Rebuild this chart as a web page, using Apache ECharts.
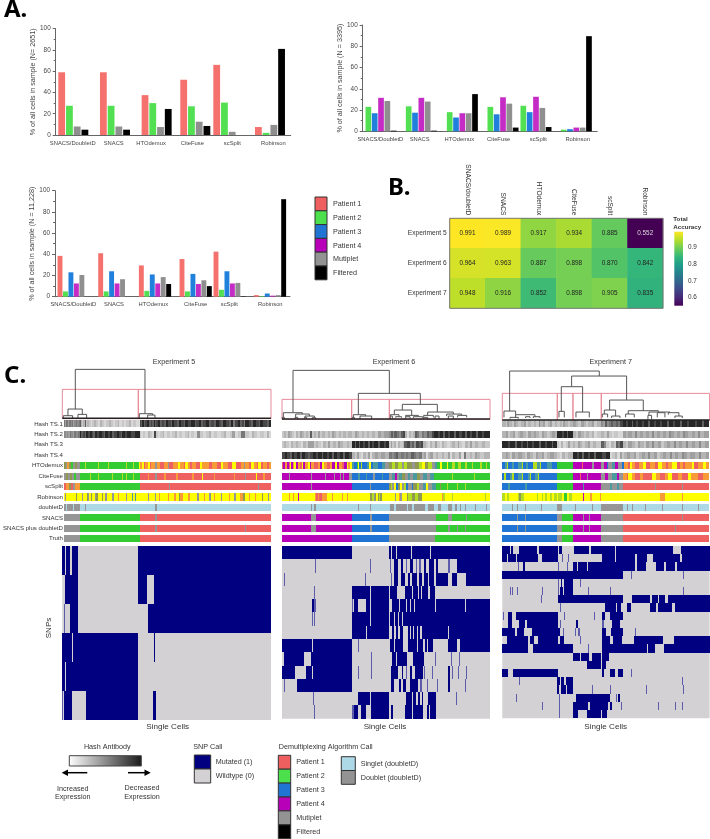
<!DOCTYPE html>
<html>
<head>
<meta charset="utf-8">
<style>
    html, body { margin: 0; padding: 0; background: #fff; }
    #main { width: 710px; height: 839px; }
</style>
<script src="https://cdn.jsdelivr.net/npm/echarts@6/dist/echarts.min.js"></script>
</head>
<body>
<div id="main"></div>
<script>
// ---- panel A, % of cells per algorithm
const methods = ['SNACS/DoubletD', 'SNACS', 'HTOdemux', 'CiteFuse', 'scSplit', 'Robinson'];

const exp5Patient1 = [59, 59, 37.5, 52, 66, 7.5];
const exp5Patient2 = [27.5, 27.5, 30, 27, 30.5, 2];
const exp5Multiplet = [8, 8, 7.5, 12.5, 3, 9.5];
const exp5Filtered = [5, 5, 24.5, 8.5, null, 81];

const exp6Patient2 = [23, 23.5, 18, 23, 24, 1.5];
const exp6Patient3 = [17, 17.5, 13, 16, 18, 2];
const exp6Patient4 = [31.5, 31.5, 17, 32, 32.5, 3.5];
const exp6Multiplet = [28.5, 28, 17, 26, 22, 3.5];
const exp6Filtered = [0.6, 0.6, 35, 3.5, 4, 89.5];

const exp7Patient1 = [38.5, 41, 29.5, 35.5, 42.5, 1.5];
const exp7Patient2 = [5, 5, 5.5, 5, 6.5, 0.5];
const exp7Patient3 = [23, 24, 21, 21.5, 24, 3];
const exp7Patient4 = [12.5, 12.5, 12.5, 12, 12.5, 1];
const exp7Multiplet = [20.5, 16.5, 18.5, 15.5, 13, 1.5];
const exp7Filtered = [null, null, 12, 10, 0.3, 92];

// ---- panel B, total accuracy
const experiments = ['Experiment 5', 'Experiment 6', 'Experiment 7'];
const heatMethods = ['SNACS/doubletD', 'SNACS', 'HTOdemux', 'CiteFuse', 'scSplit', 'Robinson'];
const accuracy5 = [0.991, 0.989, 0.917, 0.934, 0.885, 0.552];
const accuracy6 = [0.964, 0.963, 0.887, 0.898, 0.870, 0.842];
const accuracy7 = [0.948, 0.916, 0.852, 0.898, 0.905, 0.835];
const accuracyTicks = [0.6, 0.7, 0.8, 0.9];
const viridis = ['#440154', '#482878', '#3e4989', '#31688e', '#26828e', '#1f9e89', '#35b779', '#6ece58', '#b5de2b', '#fde725'];

// ---- panel C, annotation tracks: each token is <code><cell where the run ends>
const trackNames = ['Hash TS.1', 'Hash TS.2', 'Hash TS.3', 'Hash TS.4', 'HTOdemux', 'CiteFuse', 'scSplit', 'Robinson', 'doubletD', 'SNACS', 'SNACS plus doubletD', 'Truth'];

const tracks5 = [
    'g190 e192 g197 e200 g206 f209 g214 e217 f221 g226 f230 g234 h236 d241 c244 d248 h251 c256 d262 c268 b272 c278 d283 c290 b296 d302 c308 b314 c322 d327 c334 b340 c348 d353 b360 c368 b375 c384 d388 b396 c404 b415 i420 h423 j428 h432 i438 j443 h448 i453 h457 j462 h465 i472 j478 h482 i490 h496 j502 i510 h514 j520 i528 h533 j540 i548 h553 j562 i570 j582 h587 i594 j602 h606 i615 j625 h630 i640 h645 j655 i662 h667 j677 i686 h692 j698 g703 i712 j720 h724 i730 g734 j745 i752 h757 j768 i776 h781 j790 i800 h806 j813',
    'f191 e194 f199 e203 g208 f213 e217 g222 f228 g234 j238 h242 i248 h252 j258 i263 j270 i275 h279 j286 i292 j300 i306 h310 j318 i325 j332 h337 i345 j352 i358 h362 j370 i378 j390 i400 j415 c420 b426 c432 b440 d446 c452 b458 i464 c472 b478 c486 d490 b498 c506 b514 c522 d527 b535 c544 b552 c560 d564 b572 c580 b590 f598 c606 b616 c625 d630 b640 c650 b660 c672 d677 b688 c696 e703 b712 c722 g734 c745 b755 d760 c770 b780 c792 b802 d806 b813',
    '',
    '',
    'A192 M196 O200 A208 G212 M220 A226 M234 G250 V252 G290 V292 G320 V323 G345 V347 G375 V378 G395 V397 G412 Y415 O422 Y428 R431 O440 Y445 R450 O462 M466 O478 R490 O500 M505 R515 O530 Y536 O548 R553 Y560 O567 R575 O585 R598 Y603 O625 R635 O650 R660 Y668 O684 R694 Y706 R722 O730 M734 O745 R752 Y760 O770 R773 Y782 R790 O800 R808 O813',
    'M192 A198 M204 A210 M216 G222 M234 G265 V267 G290 V292 G330 V333 G360 V363 G375 V377 G395 V397 G415 R440 O444 R460 M466 R490 O494 R525 O530 R575 O580 R605 Y608 R640 O644 R700 O703 R733 M736 R768 Y772 R790 O795 R813',
    'R192 O200 A208 R212 M218 O234 G415 R505 M507 R703 M705 R733 M735 R775 M777 R800 M802 R813',
    'Y190 M192 Y200 O202 Y212 M214 Y222 A225 Y240 M243 Y254 A258 M262 Y268 A270 Y280 M284 A288 Y300 A304 Y310 M316 Y330 A332 M336 Y350 O352 Y360 M362 Y375 M378 Y392 T396 Y402 T405 Y440 M444 Y460 M463 Y474 O478 Y500 O505 Y520 O524 Y535 A538 O545 Y560 O566 Y590 M594 Y610 O614 Y625 M632 Y640 O644 Y660 M664 Y685 O690 Y700 M708 Y720 O728 A734 Y745 O750 Y765 O768 Y785 A790 Y805 M808 Y813',
    'M193 L195 M200 L202 M206 L208 M214 L216 M234 L249 M252 L460 M466 L733 M735 L813',
    'M234 G415 R462 M466 R813',
    'M234 G415 R460 M466 R733 M736 R813',
    'M234 G415 R813'
];

const tracks6 = [
    '',
    'c28 d32 c40 e44 d50 c58 b62 d68 c75 e80 d86 c92 d98 c105 h112 c118 d124 c130 e135 c142 d150 c158 d166 c172 e178 d184 c192 d198 c205 d212 c220 d230 c240 e245 d252 c260 d268 c275 d282 c292 d300 c310 e318 d328 e343 f348 h354 f358 h366 g372 f378 h385 i390 d396 b402 d408 c415 d420 h426 g432 e440 g448 f455 h462 g470 i478 j490 i496 j505 h510 j520 i526 j538 h542 j552 i560 j570 h575 j585 i592 j604 h608 j620 i628 j645',
    'c28 d34 c42 b48 d55 c64 d70 c78 b85 d92 c100 e110 e116 c124 d130 c138 b145 d152 c160 e165 c175 d182 c190 e196 d205 c215 d222 c230 j240 h244 j252 h256 j265 i270 j280 h284 j292 i298 j310 h315 j328 i333 j343 c348 e352 c358 d364 b370 d376 c384 d388 h396 i404 g410 h418 f424 i432 h438 i445 d452 c460 b466 d472 c480 e486 c494 b500 d508 c516 b524 c532 d540 c548 e553 c562 b570 d578 c586 e592 c600 d610 c620 d630 c645',
    'i30 j36 i44 h50 j58 i66 j76 h82 j90 i98 h106 i114 j122 i130 j140 h145 j155 i162 j172 h178 j186 i194 j205 h210 j222 i230 d240 c246 e252 c258 b264 d272 c280 e286 b292 d300 e310 d318 e330 d343 g350 f356 g364 h370 f378 g386 f392 g400 f408 h416 g424 f432 g440 d446 e452 b460 d466 e474 c482 d490 c500 d508 c518 e524 b532 d540 c552 e558 b566 g574 c584 d592 c600 e606 d616 c626 d645',
    'R25 P30 O36 P42 R45 Y48 P54 O58 Y62 P70 O75 R80 Y85 P90 O98 Y104 P108 O118 R128 O135 P142 Y148 O155 R165 O172 P180 Y186 P192 O200 R208 P215 Y218 O225 Y230 T238 B245 G248 Y252 B258 V262 B275 T282 Y288 B295 T310 B322 T330 M343 A352 V360 A370 V380 M388 V395 A410 M420 A432 V442 Y450 A460 V470 M480 T487 G495 Y500 G515 Y518 G530 V540 G550 V558 G570 V575 G590 V595 G615 V620 G632 V636 G645',
    'P42 M46 P108 M112 P150 M153 P178 M181 P195 M198 P205 M208 P222 M230 B248 T255 B272 T276 B295 M300 B320 T325 B343 M350 T360 P365 M372 T380 A390 M400 T405 M415 T425 A435 M445 T455 M465 T478 G530 V533 G598 V601 G645',
    'P108 M112 P230 B285 M289 B343 A348 V352 M358 Y362 B368 A375 Y380 M388 V393 B400 M410 B415 A425 V432 M445 T452 Y460 M470 T483 G495 A498 G515 V518 G545 V548 G570 V574 G645',
    'Y42 O45 Y55 O58 Y70 P72 Y98 R100 Y120 O124 R128 O133 R140 O155 Y170 O174 Y200 O204 Y215 O220 Y285 A290 V297 M300 A304 Y308 A312 V316 A320 Y360 M364 Y372 O376 M380 Y396 A400 V412 A420 V430 A440 Y500 O505 V510 Y530 V535 Y630 V633 Y645',
    'L108 M111 L118 M122 L250 M252 L285 M288 L346 M358 L362 M395 L400 M412 L418 M450 L460 M478 L490 M498 L520 M530 L540 M545 L555 M558 L570 M574 L600 M603 L632 M635 L645',
    'P108 M122 P230 B285 M291 B343 M483 G520 M530 G572 M575 G645',
    'P108 M122 P230 B285 M291 B343 M483 G520 M524 G545 M548 G570 M574 G645',
    'P230 B343 M480 G645'
];

const tracks7 = [
    'd32 c36 e42 d50 c56 e62 d70 c78 d86 e92 c100 d108 c116 d124 c132 f136 d144 e150 c158 d166 e172 c180 d187 c195 d200 c205 e210 d218 c226 d234 e242 d250 c258 e266 d274 c280 d290 e298 c306 d319 f325 e330 h336 f342 g348 h355 g362 h370 g376 i385 j394 i400 j410 h414 j424 i430 j442 i448 j460 h465 j478 i484 j496 i502 j516 h522 j534 i540 j556 h561 j576 i582 j600 i606 j620 h626 j643',
    'd32 e38 c46 d54 e60 c68 d76 e84 d92 c100 e108 d116 e124 d132 c140 e148 d156 c164 d172 e180 d187 j200 i206 j215 h220 j234 d242 c250 e258 d266 c274 d282 c290 d298 b306 c319 d328 c336 e342 c350 b358 c368 b385 e392 d400 e410 d420 f426 d436 e444 d452 e462 d470 f476 d486 e496 d504 e514 d522 f528 e538 d546 e556 d564 f570 e580 d590 e600 d610 f616 d628 e643',
    'j40 i46 j60 h66 j78 i84 j96 h100 j112 i118 j132 h138 j150 i156 j170 h175 j187 c192 b198 d204 b212 c220 e226 c234 d240 c248 e254 d262 c270 d278 e286 c294 d304 c319 h328 f332 c342 b348 d356 c362 h370 g376 i385 d394 c400 e410 d420 c428 e436 d446 c454 e462 d472 f478 d488 e498 c506 d516 e526 d536 f542 d552 e562 d572 f578 d590 e600 d612 f618 d630 e643',
    'd32 e38 d46 c52 e60 d70 e80 d90 c96 e104 d114 c122 e130 d140 e148 c156 d166 e176 d187 c195 b202 d210 c218 d234 j246 i252 j262 h268 j280 i286 j298 h304 j320 i334 j345 b352 c360 d366 b375 e382 c388 d396 e404 d416 e424 c432 d442 e450 d460 f466 d476 e486 c494 d504 e514 d524 f530 d540 e550 d560 f566 e576 d586 e600 d612 f618 d632 e643',
    'B30 T35 V38 B50 T56 B70 T80 V84 B92 T98 B115 V125 T135 V138 B155 T170 B187 G234 P262 R265 P290 M296 P318 M328 P335 B340 M352 T360 P368 M380 B387 O400 R405 Y412 O420 R432 O445 Y452 R465 O480 R490 Y500 O512 R520 O530 Y545 R555 O565 R570 O590 Y597 R610 O625 Y632 O643',
    'B28 V32 B45 T50 V56 B70 T80 V85 B100 T105 V108 B120 T128 V132 B187 G234 P255 R258 P275 M278 P318 M330 P338 M350 T365 P372 M385 O395 R400 Y410 O420 R435 O445 R470 Y482 O495 R510 O520 Y530 R550 O560 R580 Y588 O610 R625 O643',
    'B40 T44 B90 T95 B187 G234 P265 T268 P318 M345 T350 M365 T372 M385 R480 M483 R560 M563 R643',
    'V30 Y35 V42 Y68 V72 A78 V88 Y125 V130 Y140 V145 Y150 V155 Y165 V170 Y178 V185 Y190 V200 Y208 G215 Y222 V232 Y264 P267 Y285 O292 Y315 O318 Y495 O510 Y560 O563 Y643',
    'L52 M55 L65 M68 L90 M92 L138 M142 L186 M200 L240 M243 L290 M293 L318 M385 L395 M398 L410 M413 L450 M452 L500 M503 L560 M563 L610 M613 L643',
    'B65 M68 B90 M92 B140 M142 B187 M202 G234 P265 M268 P282 M285 P318 M385 R562 M565 R643',
    'B65 M68 B90 M92 B140 M142 B187 M202 G234 P265 M268 P282 M285 P318 M385 R540 M543 R643',
    'B187 M202 G234 P318 M385 R643'
];

// ---- panel C, SNP matrices: each row lists [from, to] runs of mutated cells
const snps5 = [
    [187, 195, 198, 210, 216, 234, 415, 813],
    [195, 212, 214, 234, 415, 441, 461, 813],
    [191, 195, 210, 234, 443, 813],
    [187, 198, 199, 216, 218, 415, 461, 466],
    [187, 195, 197, 415],
    [187, 190, 193, 200, 201, 216, 259, 415, 460, 467]
];

const snps6 = [
    [21, 230, 343, 349, 351, 364, 366, 395, 397, 408, 410, 465, 467, 645],
    [120, 122, 285, 288, 345, 347, 356, 368, 378, 384, 392, 396, 405, 415, 422, 425, 433, 437, 447, 452, 462, 478, 482, 490, 520, 524, 545, 645],
    [27, 29, 270, 274, 348, 352, 358, 368, 378, 390, 398, 404, 412, 425, 432, 440, 447, 460, 462, 478, 482, 520, 530, 545, 573, 645],
    [117, 121, 230, 285, 287, 343, 345, 365, 390, 412, 414, 430, 432, 437, 440, 460, 465, 480],
    [110, 116, 118, 122, 230, 234, 238, 250, 272, 284, 288, 343, 350, 356, 358, 372, 376, 392, 395, 404, 408, 418, 420, 480, 483, 570, 574, 645],
    [110, 112, 117, 120, 230, 285, 287, 343, 345, 350, 352, 358, 360, 368, 372, 380, 384, 410, 412, 645],
    [230, 272, 275, 343, 350, 356, 362, 368, 375, 384, 400, 405, 408, 414, 418, 425, 428, 435, 440, 518, 522, 645],
    [21, 110, 113, 230, 249, 252, 345, 358, 360, 385, 398, 425, 428, 445, 450, 455, 460, 475, 520, 545, 555, 645],
    [27, 87, 108, 230, 287, 290, 350, 362, 365, 395, 415, 447, 480, 483, 528, 530, 552, 555],
    [21, 60, 93, 112, 114, 230, 249, 252, 287, 290, 348, 368, 380, 385, 392, 395, 405, 412, 420, 445, 446, 450, 470, 473, 520, 526, 530, 533, 550, 553, 573, 575],
    [27, 29, 67, 110, 112, 230, 348, 356, 372, 378, 384, 394, 405, 430, 436, 440, 457, 460, 485, 488, 520, 526, 570, 574],
    [115, 118, 250, 285, 287, 343, 392, 398, 400, 410, 415, 424, 430, 435, 440, 445, 460, 482, 543, 546],
    [117, 120, 232, 236, 238, 250, 257, 272, 287, 343, 348, 354, 390, 412, 415, 428, 430, 445, 456, 462, 466, 482]
];

const snps7 = [
    [22, 45, 47, 55, 72, 125, 133, 190, 192, 202, 238, 283, 288, 360, 362, 533, 558, 644],
    [22, 35, 38, 62, 65, 130, 140, 190, 200, 202, 218, 222, 320, 360, 362, 420, 425, 455, 475, 555, 560, 644],
    [70, 73, 85, 90, 188, 192, 215, 218, 235, 245, 250, 275, 280, 420, 425, 452, 482, 508, 512, 540, 545, 644],
    [22, 385, 408, 410, 563, 566],
    [188, 192, 197, 202, 208, 234, 255, 258],
    [44, 47, 52, 55, 65, 68, 140, 142, 188, 190, 195, 204, 208, 234, 280, 282, 345, 348, 563, 566],
    [139, 141, 188, 385, 410, 465, 470, 488, 492, 510, 518, 644],
    [195, 198, 330, 362, 366, 378, 395, 408, 465, 483, 490, 530, 540, 644],
    [25, 27, 38, 52, 63, 188, 207, 210, 297, 300, 320, 330, 345, 385],
    [40, 50, 72, 90, 95, 188, 195, 198, 243, 250, 322, 326, 352, 375],
    [22, 60, 65, 88, 112, 188, 190, 195, 205, 208, 240, 243, 250, 254, 320, 332, 348, 385, 420, 424],
    [35, 100, 105, 118, 130, 188, 195, 207, 255, 258, 320, 345, 355, 380, 418, 505, 537, 644],
    [22, 100, 115, 234, 280, 283, 320, 455, 458, 480, 508, 644],
    [234, 255, 258, 282, 290, 318, 322, 342],
    [275, 318, 322, 334],
    [22, 38, 53, 188, 320, 328, 345, 360, 370, 385, 408, 411],
    [72, 75, 186, 195, 197, 208, 213, 234, 562, 565],
    [186, 192, 197, 212, 215, 234, 292, 295, 345, 348, 453, 456, 565, 567],
    [63, 66, 192, 195, 243, 345, 362, 365, 368, 375],
    [141, 143, 192, 195, 235, 280, 285, 340, 345, 350, 378, 382, 490, 492, 540, 544, 562, 565],
    [192, 195, 235, 248, 275, 318, 322, 336]
];

// ---- panel C, dendrograms: [left cell, right cell, join height, left child height, right child height]
const merges5 = [
    [226, 435, 88, 207, 221], [204, 247, 207, 227, 223], [190, 218, 227, 236, 236], [234, 260, 223, 236, 236],
    [418, 458, 221, 236, 225], [443, 465, 225, 236, 236]
];
const merges6 = [
    [54, 343, 91, 218, 160], [25, 82, 218, 232, 222], [62, 103, 222, 232, 228], [90, 118, 228, 232, 233],
    [22, 28, 232, 237, 237], [60, 68, 232, 237, 237], [88, 95, 232, 237, 237], [112, 122, 233, 237, 237],
    [250, 436, 160, 224, 193], [235, 272, 224, 232, 228], [232, 238, 232, 237, 237], [255, 290, 228, 237, 237],
    [382, 487, 193, 210, 216], [358, 410, 210, 224, 226], [346, 372, 224, 228, 230], [346, 352, 228, 237, 237],
    [362, 380, 230, 233, 233], [392, 430, 226, 230, 230], [392, 405, 230, 236, 236], [415, 442, 230, 234, 234],
    [458, 535, 216, 226, 222], [446, 475, 226, 232, 232], [446, 458, 232, 237, 237], [480, 492, 228, 237, 237],
    [515, 560, 222, 228, 226], [520, 535, 228, 237, 237], [548, 575, 226, 232, 232]
];
const merges7 = [
    [44, 313, 93, 213, 108], [230, 395, 108, 140, 180], [199, 263, 140, 214, 216], [192, 208, 214, 232, 232],
    [243, 283, 216, 232, 232], [344, 445, 180, 210, 212], [328, 362, 210, 222, 228], [322, 338, 222, 232, 232],
    [350, 375, 228, 234, 234], [400, 490, 212, 222, 216], [392, 418, 222, 232, 232], [462, 525, 216, 226, 218],
    [459, 470, 226, 238, 238], [487, 510, 218, 232, 232], [520, 552, 218, 224, 228], [540, 562, 228, 234, 234],
    [27, 62, 213, 232, 224], [62, 120, 224, 232, 230], [45, 70, 232, 236, 236], [92, 105, 230, 234, 234], [115, 135, 230, 234, 234]
];

// ---- colours
const barColors = { p1: '#f4716d', p2: '#52e052', p3: '#2080dc', p4: '#c52cc5', m: '#8f8f8f', f: '#000000' };
const trackColors = {
    R: '#ef6060', G: '#33cc33', B: '#1f74d4', P: '#b800b8', M: '#969696', Y: '#ffff00', O: '#f79a38',
    V: '#b4dc20', A: '#8f9a50', T: '#4a9aa0', L: '#add8e6',
    a: '#f0f0f0', b: '#d8d8d8', c: '#c8c8c8', d: '#b4b4b4', e: '#a0a0a0', f: '#8c8c8c', g: '#787878', h: '#606060', i: '#484848', j: '#282828'
};
const colorCodes = Object.keys(trackColors);
const FONT = '"Liberation Sans", Arial, sans-serif';

// ---- layout of the three bar charts (x axis runs in layout units)
const barCharts = [
    {
        left: 55.7, top: 28.7, width: 235, height: 106.3, xMin: 167, xMax: 872, pitch: 23.2, barWidth: 6.8, nameGap: 19,
        name: '% of all cells in sample (N= 2651)',
        groupStart: [185, 310, 435, 551, 650, 775], labelAt: [218, 341, 453, 577, 697, 820],
        series: [[exp5Patient1, barColors.p1], [exp5Patient2, barColors.p2], [exp5Multiplet, barColors.m], [exp5Filtered, barColors.f]]
    },
    {
        left: 362.7, top: 25, width: 234.6, height: 106.3, xMin: 98, xMax: 802, pitch: 19, barWidth: 5.7, nameGap: 17,
        name: '% of all cells in sample (N = 3395)',
        groupStart: [115, 236, 359, 481, 580, 701], labelAt: [151, 269, 388, 506, 625, 743],
        series: [[exp6Patient2, barColors.p2], [exp6Patient3, barColors.p3], [exp6Patient4, barColors.p4], [exp6Multiplet, barColors.m], [exp6Filtered, barColors.f]]
    },
    {
        left: 55, top: 190.7, width: 235, height: 106, xMin: 165, xMax: 870, pitch: 16.4, barWidth: 4.9, nameGap: 16.5,
        name: '% of all cells in sample (N = 11,228)',
        groupStart: [180, 302, 424, 546, 648, 769], labelAt: [220, 342, 460, 587, 688, 811],
        series: [[exp7Patient1, barColors.p1], [exp7Patient2, barColors.p2], [exp7Patient3, barColors.p3], [exp7Patient4, barColors.p4], [exp7Multiplet, barColors.m], [exp7Filtered, barColors.f]]
    }
];

// ---- layout of panel C
const panels = [
    { left: 62.3, width: 208.7, cells: [187, 813], tracks: tracks5, snps: snps5, merges: merges5, boxes: [187, 415, 813], boxTop: 148, base: 236, snpHeight: 174, labels: true },
    { left: 282, width: 208, cells: [21, 645], tracks: tracks6, snps: snps6, merges: merges6, boxes: [21, 230, 343, 645], boxTop: 178, base: 238, snpHeight: 172.7, labels: false },
    { left: 502.3, width: 207.3, cells: [22, 644], tracks: tracks7, snps: snps7, merges: merges7, boxes: [22, 187, 234, 319, 644], boxTop: 160, base: 241, snpHeight: 172.3, labels: false }
];

let grids = [], xAxes = [], yAxes = [], series = [];

function addGrid(grid, xAxis, yAxis) {
    grids.push(grid);
    xAxis.gridIndex = grids.length - 1;
    yAxis.gridIndex = grids.length - 1;
    xAxes.push(xAxis);
    yAxes.push(yAxis);
    return grids.length - 1;
}

barCharts.forEach((c) => {
    let idx = addGrid(
        { left: c.left, top: c.top, width: c.width, height: c.height },
        {
            type: 'value', min: c.xMin, max: c.xMax, splitLine: { show: false },
            axisLine: { show: true, onZero: false, lineStyle: { color: '#666', width: 1 } }, axisTick: { show: false },
            axisLabel: {
                customValues: c.labelAt, margin: 5, fontSize: 5.8, color: '#444', fontFamily: FONT, hideOverlap: false,
                showMinLabel: true, showMaxLabel: true,
                formatter: (v) => methods[c.labelAt.indexOf(v)] || ''
            }
        },
        {
            type: 'value', min: 0, max: 100, interval: 20, splitLine: { show: false },
            axisLine: { show: true, lineStyle: { color: '#666', width: 1 } },
            axisTick: { show: true, length: 3, lineStyle: { color: '#666' } },
            minorTick: { show: true, splitNumber: 2, length: 2, lineStyle: { color: '#666' } },
            axisLabel: { fontSize: 6.4, color: '#444', fontFamily: FONT, margin: 5 },
            name: c.name, nameLocation: 'middle', nameGap: c.nameGap, nameRotate: 90,
            nameTextStyle: { fontSize: 7.2, color: '#444', fontFamily: FONT }
        }
    );
    // bars sit next to each other, groups only use a slot for the values they have
    let used = methods.map(() => 0);
    c.series.forEach((s) => {
        let points = [];
        s[0].forEach((v, g) => {
            if (v === null) return;
            points.push([c.groupStart[g] + used[g] * c.pitch, v]);
            used[g]++;
        });
        series.push({
            type: 'bar', xAxisIndex: idx, yAxisIndex: idx, data: points, barWidth: c.barWidth, barGap: '-100%',
            itemStyle: { color: s[1] }, silent: true
        });
    });
});

// ---- heatmap
let heatGrid = addGrid(
    { left: 449.7, top: 218.3, width: 213.3, height: 90 },
    {
        type: 'category', data: heatMethods, position: 'top', axisLine: { show: false }, axisTick: { show: false },
        axisLabel: { rotate: 90, fontSize: 6.6, color: '#333', fontFamily: FONT, margin: 3, interval: 0 }
    },
    {
        type: 'category', data: experiments, inverse: true, axisLine: { show: false }, axisTick: { show: false },
        axisLabel: { fontSize: 6.6, color: '#333', fontFamily: FONT, margin: 3 }
    }
);
let heatData = [];
[accuracy5, accuracy6, accuracy7].forEach((row, y) => {
    row.forEach((v, x) => {
        heatData.push({ value: [x, y, v], label: { color: v < 0.6 ? '#dddddd' : '#222222' } });
    });
});
series.push({
    type: 'heatmap', xAxisIndex: heatGrid, yAxisIndex: heatGrid, data: heatData, silent: true,
    label: { show: true, fontSize: 6.4, fontFamily: FONT, formatter: (p) => p.value[2].toFixed(3) }
});
const heatSeriesIndex = series.length - 1;

// colour bar, same scale as the heatmap
let barGrid = addGrid(
    { left: 674.3, top: 231.7, width: 8.7, height: 74 },
    { type: 'category', data: ['accuracy'], show: false },
    {
        type: 'value', position: 'right', min: 0.552, max: 0.991, splitLine: { show: false },
        axisLine: { show: false }, axisTick: { show: true, inside: true, length: 2, customValues: accuracyTicks, lineStyle: { color: '#333' } },
        axisLabel: { customValues: accuracyTicks, fontSize: 6.4, color: '#333', fontFamily: FONT, margin: 5, formatter: (v) => v.toFixed(1) }
    }
);
series.push({
    type: 'bar', xAxisIndex: barGrid, yAxisIndex: barGrid, data: [0.991], barWidth: '100%', silent: true,
    itemStyle: {
        color: new echarts.graphic.LinearGradient(0, 1, 0, 0, viridis.map((c, i) => ({ offset: i / (viridis.length - 1), color: c })))
    }
});

// ---- panel C
function snapRect(x0, x1, y0, y1) {
    let a = Math.round(x0), b = Math.round(x1), t = Math.round(y0), u = Math.round(y1);
    return { x: a, y: t, width: Math.max(b - a, 1), height: u - t };
}

function renderTrack(params, api) {
    let p0 = api.coord([api.value(0), api.value(2)]);
    let p1 = api.coord([api.value(1), api.value(2)]);
    let h = api.size([0, 1])[1] * 0.68;
    return {
        type: 'rect', shape: snapRect(p0[0], p1[0], p0[1] - h / 2, p0[1] + h / 2),
        style: { fill: trackColors[colorCodes[api.value(3)]] }
    };
}

function renderSnp(params, api) {
    let from = api.value(0), to = api.value(1);
    let p0 = api.coord([from, api.value(2)]);
    let p1 = api.coord([to, api.value(2) + 1]);
    // single cell streaks come out paler than the solid blocks
    let fill = to - from <= 4 ? '#5c5cab' : '#000080';
    return { type: 'rect', shape: snapRect(p0[0], p1[0], p0[1], p1[1]), style: { fill: fill } };
}

function renderMerge(params, api) {
    let l = api.value(0), r = api.value(1), h = api.value(2);
    let pts = [[l, api.value(3)], [l, h], [r, h], [r, api.value(4)]].map((p) => api.coord(p));
    return { type: 'polyline', shape: { points: pts }, style: { fill: null, stroke: '#555', lineWidth: 1 } };
}

function renderBox(params, api) {
    let a = api.coord([api.value(0), api.value(2)]);
    let b = api.coord([api.value(1), api.value(3)]);
    return {
        type: 'rect', shape: { x: a[0], y: a[1], width: b[0] - a[0], height: b[1] - a[1] },
        style: { fill: null, stroke: '#e98a9a', lineWidth: 1 }
    };
}

panels.forEach((p) => {
    let cellAxis = { type: 'value', min: p.cells[0], max: p.cells[1], show: false };

    // dendrogram
    let d = addGrid(
        { left: p.left, width: p.width, top: 366.7, height: 54 },
        Object.assign({}, cellAxis),
        { type: 'value', inverse: true, min: 80, max: 242, show: false }
    );
    let boxes = [];
    for (let i = 0; i + 1 < p.boxes.length; i++) {
        boxes.push([p.boxes[i], p.boxes[i + 1], p.boxTop, p.base]);
    }
    series.push({
        type: 'custom', xAxisIndex: d, yAxisIndex: d, renderItem: renderBox, data: boxes, silent: true,
        encode: { x: [0, 1], y: [2, 3] }, clip: false
    });
    series.push({
        type: 'custom', xAxisIndex: d, yAxisIndex: d, renderItem: renderMerge, data: p.merges, silent: true,
        encode: { x: [0, 1], y: [2, 3, 4] }, clip: false
    });
    series.push({
        type: 'line', xAxisIndex: d, yAxisIndex: d, symbol: 'none', silent: true,
        data: [[p.cells[0], p.base - 1], [p.cells[1], p.base - 1]], lineStyle: { color: '#222', width: 1.5 }
    });

    // annotation tracks
    let t = addGrid(
        { left: p.left, width: p.width, top: 418.7, height: 125.3 },
        Object.assign({}, cellAxis),
        {
            type: 'category', data: trackNames, inverse: true, axisLine: { show: false }, axisTick: { show: false },
            axisLabel: { show: p.labels, interval: 0, fontSize: 6.1, color: '#333', fontFamily: FONT, margin: 1.5 }
        }
    );
    let trackData = [];
    p.tracks.forEach((str, row) => {
        if (!str) return;
        let start = p.cells[0];
        str.split(' ').forEach((tok) => {
            let end = Number(tok.slice(1));
            trackData.push([start, end, row, colorCodes.indexOf(tok[0])]);
            start = end;
        });
    });
    series.push({
        type: 'custom', xAxisIndex: t, yAxisIndex: t, renderItem: renderTrack, data: trackData, silent: true,
        encode: { x: [0, 1], y: 2 }
    });

    // SNP matrix
    let s = addGrid(
        { left: p.left, width: p.width, top: 546, height: p.snpHeight, show: true, backgroundColor: '#d3d1d3', borderWidth: 0 },
        Object.assign({}, cellAxis),
        { type: 'value', inverse: true, min: 0, max: p.snps.length, show: false }
    );
    let snpData = [];
    p.snps.forEach((runs, row) => {
        for (let i = 0; i < runs.length; i += 2) {
            snpData.push([runs[i], runs[i + 1], row]);
        }
    });
    series.push({
        type: 'custom', xAxisIndex: s, yAxisIndex: s, renderItem: renderSnp, data: snpData, silent: true,
        encode: { x: [0, 1], y: 2 }
    });
});

// ---- texts and legends
function text(x, y, str, opt) {
    return {
        type: 'text', x: x, y: y, rotation: (opt && opt.rotation) || 0, z: 50,
        style: Object.assign({
            text: str, fontSize: 7.2, fontFamily: FONT, fill: '#333', textAlign: 'center', textVerticalAlign: 'middle'
        }, opt && opt.style)
    };
}
function swatches(x, y, w, h, colors) {
    return colors.map((c, i) => ({
        type: 'rect', z: 50, shape: { x: x, y: y + i * h, width: w, height: h },
        style: { fill: c, stroke: '#333', lineWidth: 1 }
    }));
}
function legendLabels(x, ys, labels) {
    return labels.map((l, i) => text(x, ys[i], l, { style: { textAlign: 'left' } }));
}
const panelLetter = { fontSize: 24, fontWeight: 'bold', fontFamily: '"Noto Sans", sans-serif', fill: '#000', textAlign: 'left' };
const patientLegend = ['Patient 1', 'Patient 2', 'Patient 3', 'Patient 4', 'Mutiplet', 'Filtered'];
const patientColors = ['#ef5f5f', '#4de04d', '#1f74d4', '#b800b8', '#939393', '#000000'];

let graphics = [
    text(4, 10, 'A.', { style: panelLetter }),
    text(388, 188.5, 'B.', { style: panelLetter }),
    text(4, 376, 'C.', { style: panelLetter }),

    { type: 'rect', z: 50, shape: { x: 449.7, y: 218.3, width: 213.3, height: 90 }, style: { fill: null, stroke: '#777', lineWidth: 1 } },
    text(673.3, 219, 'Total', { style: { textAlign: 'left', fontWeight: 'bold', fontSize: 6.2 } }),
    text(673.3, 227, 'Accuracy', { style: { textAlign: 'left', fontWeight: 'bold', fontSize: 6.2 } }),

    text(174, 362, 'Experiment 5'),
    text(394, 362, 'Experiment 6'),
    text(610.7, 362, 'Experiment 7'),
    text(49, 628, 'SNPs', { rotation: Math.PI / 2, style: { fontSize: 8 } }),
    text(167.7, 727, 'Single Cells', { style: { fontSize: 8.1 } }),
    text(385, 727, 'Single Cells', { style: { fontSize: 8.1 } }),
    text(605.7, 727, 'Single Cells', { style: { fontSize: 8.1 } }),

    text(107.3, 747.3, 'Hash Antibody'),
    {
        type: 'rect', z: 50, shape: { x: 69.3, y: 755.7, width: 72, height: 10.3 },
        style: {
            stroke: '#444', lineWidth: 1,
            fill: new echarts.graphic.LinearGradient(0, 0, 1, 0, [{ offset: 0, color: '#ffffff' }, { offset: 1, color: '#1a1a1a' }])
        }
    },
    { type: 'line', z: 50, shape: { x1: 66, y1: 772.7, x2: 87.3, y2: 772.7 }, style: { stroke: '#000', lineWidth: 1.5 } },
    { type: 'polygon', z: 50, shape: { points: [[61.7, 772.7], [68, 769.5], [68, 776]] }, style: { fill: '#000' } },
    { type: 'line', z: 50, shape: { x1: 128, y1: 772.7, x2: 146, y2: 772.7 }, style: { stroke: '#000', lineWidth: 1.5 } },
    { type: 'polygon', z: 50, shape: { points: [[150.7, 772.7], [144.5, 769.5], [144.5, 776]] }, style: { fill: '#000' } },
    text(72.7, 789, 'Increased'),
    text(72.7, 797.3, 'Expression'),
    text(142, 788.3, 'Decreased'),
    text(142, 796.7, 'Expression'),

    text(193.3, 747.3, 'SNP Call', { style: { textAlign: 'left' } }),
    text(278.7, 747.3, 'Demultiplexing Algorithm Call', { style: { textAlign: 'left' } })
];
graphics = graphics.concat(
    swatches(315, 197, 12, 13.8, patientColors),
    legendLabels(333, [204, 218, 232, 245.7, 259.5, 273.5], patientLegend),
    swatches(194.3, 755, 16.4, 14, ['#000080', '#d3d1d3']),
    legendLabels(215.7, [762.3, 776], ['Mutated (1)', 'Wildtype (0)']),
    swatches(278.3, 755.3, 12.4, 13.9, patientColors),
    legendLabels(296.3, [762.3, 776.3, 790, 803.7, 817.7, 831.7], patientLegend),
    swatches(341.3, 756.7, 14, 13.8, ['#add8e6', '#939393']),
    legendLabels(360.7, [764, 777.7], ['Singlet (doubletD)', 'Doublet (doubletD)'])
);

let chart = echarts.init(document.getElementById('main'));
chart.setOption({
    animation: false,
    backgroundColor: '#ffffff',
    textStyle: { fontFamily: FONT },
    grid: grids,
    xAxis: xAxes,
    yAxis: yAxes,
    visualMap: {
        show: false, seriesIndex: heatSeriesIndex, dimension: 2, min: 0.552, max: 0.991,
        inRange: { color: viridis }
    },
    series: series,
    graphic: { elements: graphics }
});
</script>
</body>
</html>
